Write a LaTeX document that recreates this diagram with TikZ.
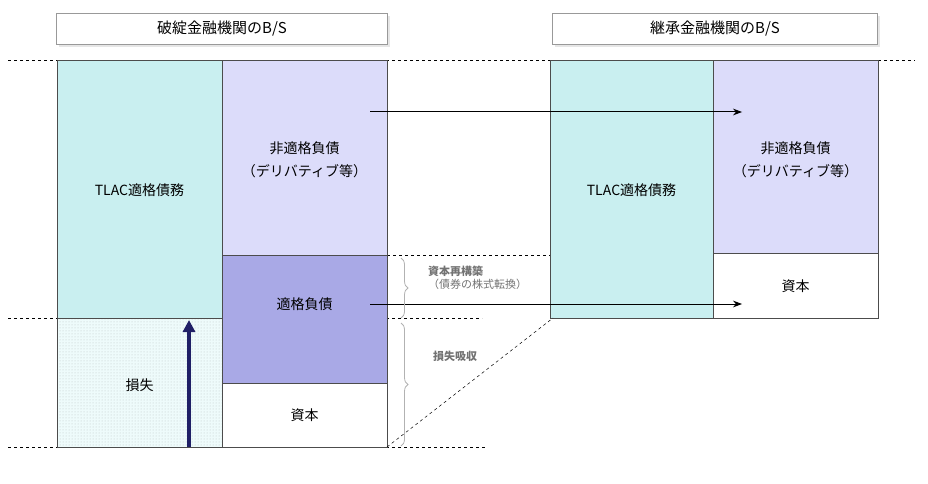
\documentclass[tikz,border=0pt]{standalone}
\usepackage{fontspec}
\setmainfont{Noto Sans CJK JP}
\usetikzlibrary{patterns,decorations.pathreplacing,arrows.meta,shadows}
\definecolor{tlac}{HTML}{C9EFF0}
\definecolor{nonel}{HTML}{DCDCFA}
\definecolor{elig}{HTML}{A9A9E6}
\definecolor{lossc}{HTML}{EEFBFB}
\definecolor{navy}{HTML}{1F1F66}
\tikzset{bx/.style={draw=black!70,line width=0.8pt},
 lab/.style={font=\fontsize{14}{17}\selectfont,align=center},
 ttl/.style={draw=black!40,fill=white,drop shadow={opacity=0.2},font=\fontsize{15}{17}\selectfont},
 dl/.style={dashed,line width=0.5pt},
 gl/.style={font=\bfseries\fontsize{11}{13}\selectfont,text=black!55,align=left},
 brc/.style={draw=black!30,line width=0.8pt,decorate,decoration={brace,amplitude=7pt}}}
\begin{document}
\begin{tikzpicture}[x=1pt,y=-1pt]
\useasboundingbox (0,0) rectangle (928,484);
% titles
\node[ttl,minimum width=331pt,minimum height=31pt] (t1) at (222,29) {破綻金融機関のB/S};
\node[ttl,minimum width=325pt,minimum height=31pt] (t2) at (715,29) {継承金融機関のB/S};
% dashed guides
\draw[dl] (8,60) -- (915,60);
\draw[dl] (387,255) -- (553,255);
\draw[dl] (8,318) -- (482,318);
\draw[dl] (8,447) -- (485,447);
% left BS
\draw[bx,fill=tlac] (57,60) rectangle (222,318);
\node[lab] (tl) at (139.5,190) {TLAC適格債務};
\fill[lossc] (57,318) rectangle (222,447);
\fill[pattern=dots,pattern color=tlac!60!black!50] (57,318) rectangle (222,447);
\draw[bx] (57,318) rectangle (222,447);
\node[lab] (ls) at (139.5,385) {損失};
\draw[bx,fill=nonel] (222,60) rectangle (387,255);
\node[lab] (ne) at (304.5,160) {非適格負債\\[6pt]（デリバティブ等）};
\draw[bx,fill=elig] (222,255) rectangle (387,383);
\node[lab] (el) at (304.5,304) {適格負債};
\draw[bx,fill=white] (222,383) rectangle (387,447);
\node[lab] (cp) at (304.5,415) {資本};
% right BS
\draw[bx,fill=tlac] (550,60) rectangle (713,318);
\node[lab] (tl2) at (631.5,190) {TLAC適格債務};
\draw[bx,fill=nonel] (713,60) rectangle (878,253);
\node[lab] (ne2) at (795.5,160) {非適格負債\\[6pt]（デリバティブ等）};
\draw[bx,fill=white] (713,253) rectangle (878,318);
\node[lab] (cp2) at (795.5,286) {資本};
% diagonal
\coordinate (d1) at (387,447); \coordinate (d2) at (553,318);
\draw[dl] (d1) -- (d2);
% arrows
\coordinate (a1) at (370,112); \coordinate (a2) at (742,112);
\draw[-{Stealth[length=9pt]},line width=1pt] (a1) -- (a2);
\coordinate (b1) at (370,304); \coordinate (b2) at (742,304);
\draw[-{Stealth[length=9pt]},line width=1pt] (b1) -- (b2);
\coordinate (u1) at (189,447); \coordinate (u2) at (189,320);
\draw[-{Triangle[length=12pt,width=12pt]},line width=4pt,navy] (u1) -- (u2);
% braces
\draw[brc] (401,258) -- (401,318);
\draw[brc] (401,323) -- (401,446);
\node[gl,anchor=west,inner sep=0pt] (g1) at (428,278) {資本再構築\\\mdseries（債券の株式転換）};
\node[gl,anchor=west,inner sep=0pt] (g2) at (433,356) {損失吸収};
\end{tikzpicture}
\end{document}
